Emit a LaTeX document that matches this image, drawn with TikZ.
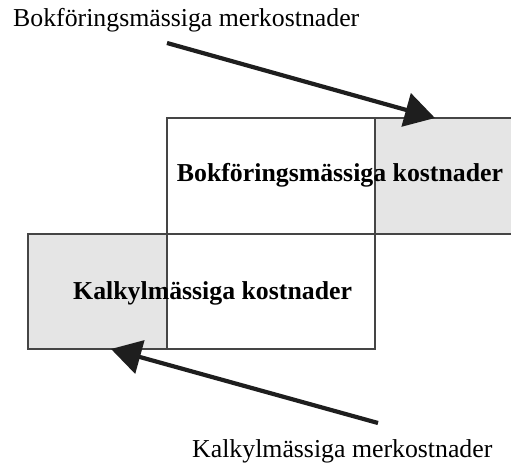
\documentclass[tikz,border=0pt]{standalone}
\usepackage{fontspec}
\setmainfont{Liberation Serif}
\usetikzlibrary{arrows.meta}
\definecolor{boxline}{HTML}{454545}
\definecolor{boxgray}{HTML}{E5E5E5}
\definecolor{arrowcol}{HTML}{1E1E1E}
\begin{document}
\begin{tikzpicture}[x=1pt,y=1pt,
  cell/.style={draw=boxline, line width=1.1pt, inner sep=0pt, outer sep=0pt},
  shaded/.style={cell, fill=boxgray},
  plain/.style={cell, fill=white},
  lbl/.style={inner sep=0pt, anchor=base west, font=\fontsize{25.8}{30}\selectfont},
  boldlbl/.style={lbl, font=\fontsize{25.8}{30}\selectfont\bfseries},
  bigarrow/.style={draw=arrowcol, line width=4.2pt, -{Triangle[length=30pt,width=34pt]}}]
\useasboundingbox (0,0) rectangle (511,463);
% cells
\node[plain, minimum width=208pt, minimum height=116pt] (bokbox) at (271,287) {};
\node[shaded, minimum width=137pt, minimum height=116pt] (bokmer) at (443.5,287) {};
\node[shaded, minimum width=139pt, minimum height=115pt] (kalkmer) at (97.5,171.5) {};
\node[plain, minimum width=208pt, minimum height=115pt] (kalkbox) at (271,171.5) {};
% labels
\node[lbl] (toptext) at (13,436) {Bokföringsmässiga merkostnader};
\node[lbl] (bottext) at (192,6) {Kalkylmässiga merkostnader};
\node[boldlbl, anchor=base] (boklbl) at (340,281) {Bokföringsmässiga kostnader};
\node[boldlbl] (kalklbl) at (73,163) {Kalkylmässiga kostnader};
% arrows
\coordinate (a1s) at (167,420);
\coordinate (a1e) at (435,345);
\coordinate (a2s) at (378,40);
\coordinate (a2e) at (111,114);
\draw[bigarrow] (a1s) -- (a1e);
\draw[bigarrow] (a2s) -- (a2e);
\end{tikzpicture}
\end{document}
